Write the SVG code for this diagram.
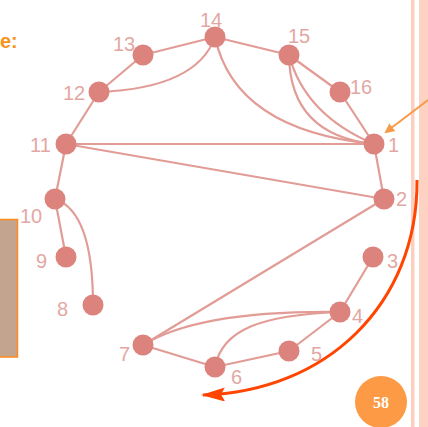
<svg xmlns="http://www.w3.org/2000/svg" width="428" height="427" viewBox="0 0 428 427">
<style>
.e{fill:none;stroke:#e29c96;stroke-width:2.2}
.n{fill:#dc837d}
.l{font-family:"Liberation Sans",Arial,sans-serif;font-size:20px;fill:#e3a7a3}
</style>
<defs>
<marker id="ao" markerWidth="10" markerHeight="10" refX="8" refY="5" orient="auto" markerUnits="userSpaceOnUse"><path d="M0,0 L10,5 L0,10 Z" fill="#f89a4a"/></marker>
<marker id="ar" markerWidth="24" markerHeight="14" refX="22" refY="7" orient="auto" markerUnits="userSpaceOnUse"><path d="M0,0 L24,7 L0,14 L4,7 Z" fill="#ff4500"/></marker>
</defs>
<rect width="428" height="427" fill="#ffffff"/>
<g id="decor">
<rect x="411" y="0" width="3.5" height="427" fill="#fccfbf"/>
<rect x="419" y="0" width="9" height="427" fill="#fdd2c2"/>
<rect x="-1" y="219.5" width="18.5" height="137.5" fill="#c3a48f" stroke="#ff8a1c" stroke-width="1.5"/>
<text x="0" y="48" font-family="Liberation Sans,Arial,sans-serif" font-size="20" font-weight="bold" fill="#f7941d">e:</text>
</g>
<g id="connectors">
<line class="e" x1="215" y1="37" x2="143" y2="55"/>
<line class="e" x1="143" y1="55" x2="99" y2="92"/>
<line class="e" x1="99" y1="92" x2="66" y2="144"/>
<line class="e" x1="66" y1="144" x2="55" y2="199"/>
<line class="e" x1="215" y1="37" x2="289" y2="55"/>
<line class="e" x1="289" y1="55" x2="340" y2="92"/>
<line class="e" x1="340" y1="92" x2="374" y2="144"/>
<line class="e" x1="374" y1="144" x2="384" y2="199"/>
<path class="e" d="M99,92 Q197,88 215,37"/>
<path class="e" d="M215,37 Q235,130 374,144"/>
<path class="e" d="M289,55 Q290,135 374,144"/>
<path class="e" d="M289,55 Q305,115 374,144"/>
<line class="e" x1="66" y1="144" x2="374" y2="144"/>
<line class="e" x1="66" y1="144" x2="384" y2="199"/>
<line class="e" x1="384" y1="199" x2="143" y2="345"/>
<line class="e" x1="55" y1="199" x2="66" y2="257"/>
<path class="e" d="M55,199 Q93,212 93,305"/>
<line class="e" x1="373" y1="257" x2="340" y2="312"/>
<line class="e" x1="340" y1="312" x2="289" y2="351"/>
<line class="e" x1="289" y1="351" x2="215" y2="367"/>
<line class="e" x1="215" y1="367" x2="143" y2="345"/>
<path class="e" d="M143,345 Q200,310 340,312"/>
<path class="e" d="M215,367 C222,330 260,315 340,312"/>
<line x1="428" y1="100" x2="386" y2="132" stroke="#f89a4a" stroke-width="2" marker-end="url(#ao)"/>
<path d="M417,180 C418,305 325,392 203,395" fill="none" stroke="#ff4500" stroke-width="3" marker-end="url(#ar)"/>
</g>
<g id="n1"><circle class="n" cx="374" cy="144" r="10.5"/><text class="l" x="388" y="152">1</text></g>
<g id="n2"><circle class="n" cx="384" cy="199" r="10.5"/><text class="l" x="396" y="206">2</text></g>
<g id="n3"><circle class="n" cx="373" cy="257" r="10.5"/><text class="l" x="387" y="268">3</text></g>
<g id="n4"><circle class="n" cx="340" cy="312" r="10.5"/><text class="l" x="352" y="323">4</text></g>
<g id="n5"><circle class="n" cx="289" cy="351" r="10.5"/><text class="l" x="311" y="361">5</text></g>
<g id="n6"><circle class="n" cx="215" cy="367" r="10.5"/><text class="l" x="231" y="384">6</text></g>
<g id="n7"><circle class="n" cx="143" cy="345" r="10.5"/><text class="l" x="119" y="361">7</text></g>
<g id="n8"><circle class="n" cx="93" cy="305" r="10.5"/><text class="l" x="57" y="316">8</text></g>
<g id="n9"><circle class="n" cx="66" cy="257" r="10.5"/><text class="l" x="36" y="268">9</text></g>
<g id="n10"><circle class="n" cx="55" cy="199" r="10.5"/><text class="l" x="20" y="223">10</text></g>
<g id="n11"><circle class="n" cx="66" cy="144" r="10.5"/><text class="l" x="30" y="152">11</text></g>
<g id="n12"><circle class="n" cx="99" cy="92" r="10.5"/><text class="l" x="63" y="100">12</text></g>
<g id="n13"><circle class="n" cx="143" cy="55" r="10.5"/><text class="l" x="113" y="51">13</text></g>
<g id="n14"><circle class="n" cx="215" cy="37" r="10.5"/><text class="l" x="200" y="27">14</text></g>
<g id="n15"><circle class="n" cx="289" cy="55" r="10.5"/><text class="l" x="288" y="43">15</text></g>
<g id="n16"><circle class="n" cx="340" cy="92" r="10.5"/><text class="l" x="350" y="94">16</text></g>
<g id="badge"><circle cx="381" cy="402" r="26" fill="#fd9a45"/><text x="381" y="408" text-anchor="middle" font-family="Liberation Serif,serif" font-size="16" font-weight="bold" fill="#ffffff">58</text></g>
</svg>
